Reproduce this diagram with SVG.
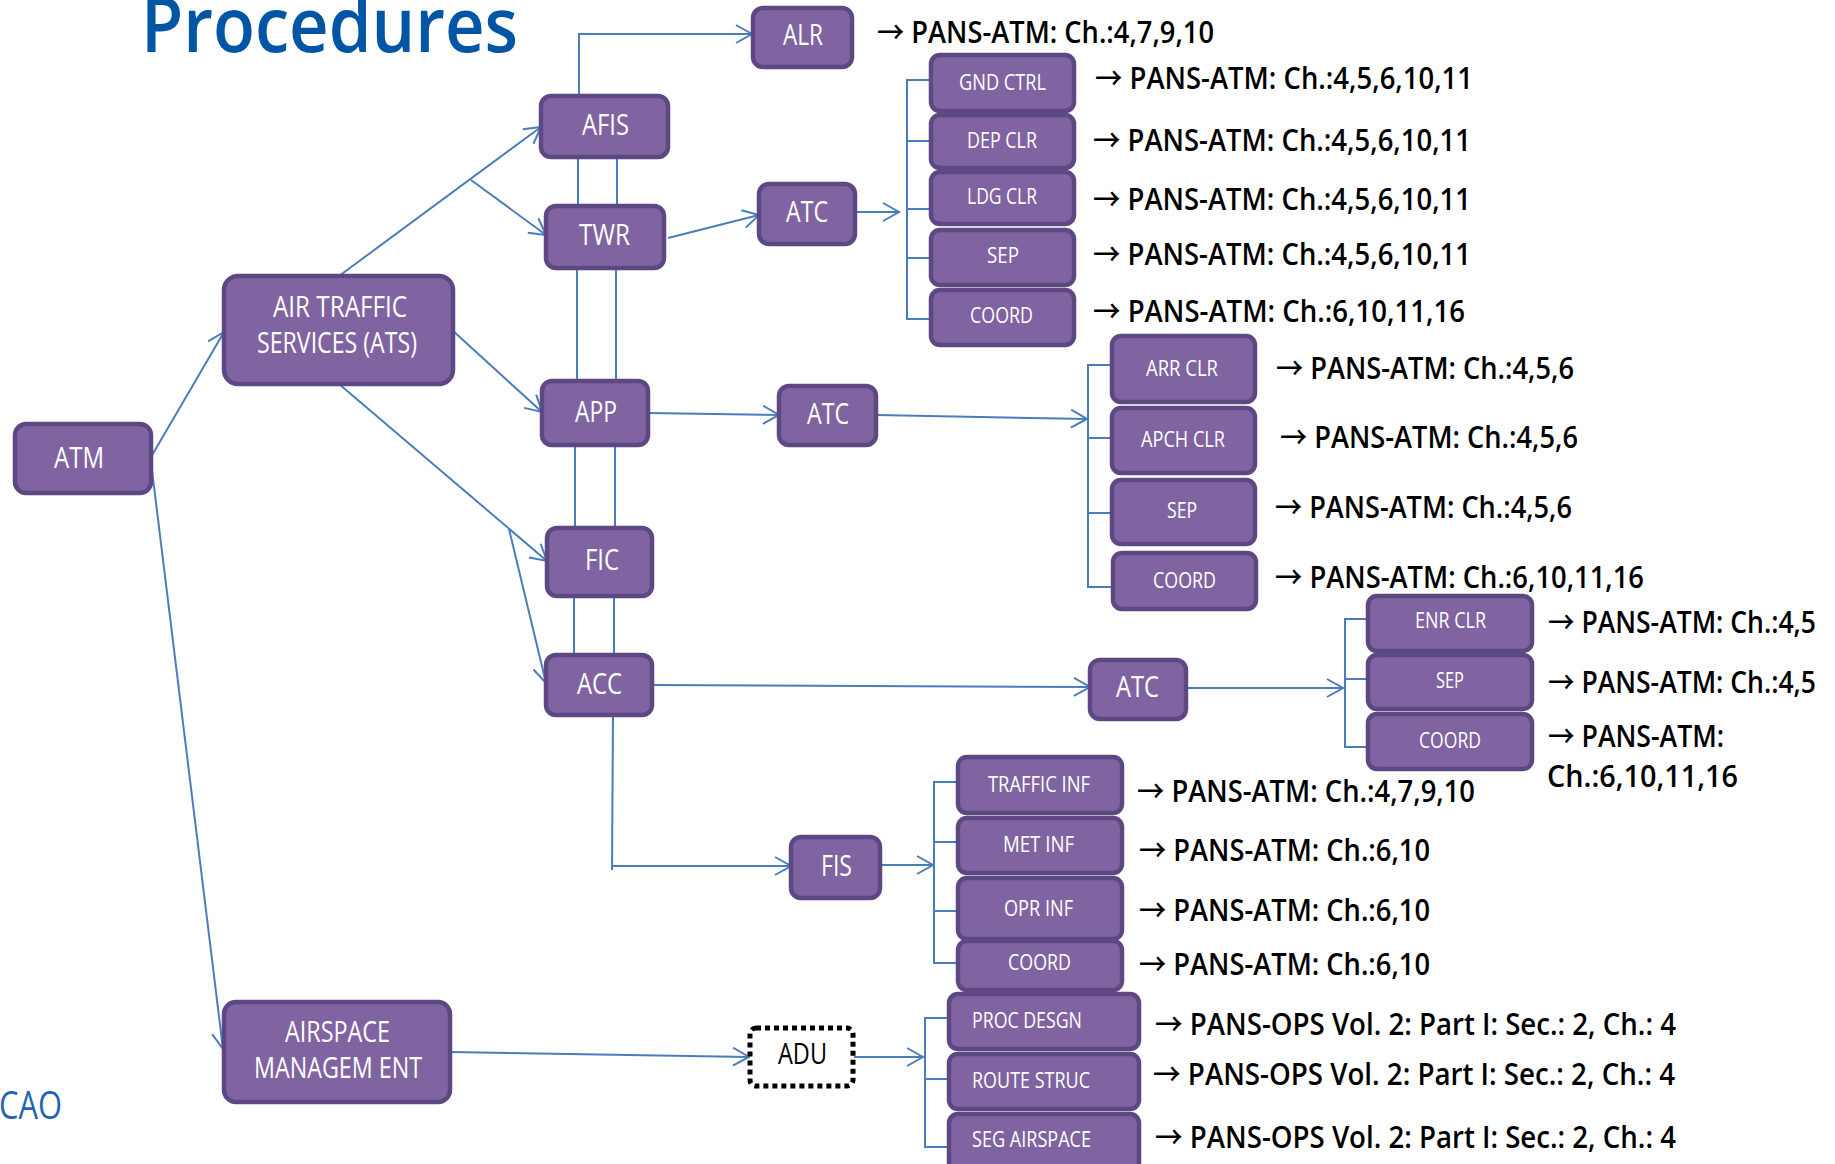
<svg xmlns="http://www.w3.org/2000/svg" width="1835" height="1164" viewBox="0 0 1835 1164">
<style>
.box{fill:#8064a2;stroke:#5d4884;stroke-width:4.5}
.dot{fill:#fff;stroke:#000;stroke-width:5;stroke-dasharray:5 4}
.lbl{fill:#fff;font-family:"Open Sans","Liberation Sans",sans-serif;font-size:29px}
.sm{fill:#fff;font-family:"Open Sans","Liberation Sans",sans-serif;font-size:21px;font-weight:500}
.ref{fill:#000;font-family:"Open Sans","Liberation Sans",sans-serif;font-size:30px;font-weight:600}
.a{font-family:"Noto Sans CJK JP","DejaVu Sans",sans-serif;font-weight:500}
.ln{fill:none;stroke:#4a7ebb;stroke-width:2}
.ar{marker-end:url(#arr)}
</style>
<defs>
<marker id="arr" markerUnits="userSpaceOnUse" markerWidth="20" markerHeight="22" refX="17" refY="10" orient="auto">
<path d="M1,1 L17,10 L1,19" fill="none" stroke="#4a7ebb" stroke-width="2"/>
</marker>
</defs>
<rect width="1835" height="1164" fill="#fff"/>
<text x="141" y="52" font-family="Open Sans, Liberation Sans, sans-serif" font-size="76" font-weight="600" fill="#0055a5" textLength="377" lengthAdjust="spacingAndGlyphs">Procedures</text>
<text x="-1" y="1119" font-family="Open Sans, Liberation Sans, sans-serif" font-size="38" fill="#1f64b0" textLength="63" lengthAdjust="spacingAndGlyphs">CAO</text>

<g id="connectors">
<line class="ln ar" x1="151" y1="457" x2="224" y2="332"/>
<line class="ln ar" x1="151" y1="462" x2="223" y2="1049"/>
<line class="ln ar" x1="339" y1="276" x2="541" y2="127"/>
<line class="ln ar" x1="471" y1="180" x2="546" y2="235"/>
<line class="ln ar" x1="452" y1="330" x2="542" y2="412"/>
<line class="ln ar" x1="339" y1="384" x2="547" y2="561"/>
<line class="ln ar" x1="509" y1="529" x2="546" y2="683"/>
<polyline class="ln ar" points="579,96 579,34 752,34"/>
<line class="ln" x1="578" y1="157" x2="578" y2="206"/>
<line class="ln" x1="617" y1="157" x2="617" y2="206"/>
<line class="ln" x1="577" y1="268" x2="577" y2="381"/>
<line class="ln" x1="616" y1="268" x2="616" y2="381"/>
<line class="ln" x1="575" y1="445" x2="575" y2="528"/>
<line class="ln" x1="615" y1="445" x2="615" y2="528"/>
<line class="ln" x1="574" y1="596" x2="574" y2="655"/>
<line class="ln" x1="614" y1="596" x2="614" y2="655"/>
<line class="ln" x1="613" y1="715" x2="612" y2="870"/>
<line class="ln ar" x1="612" y1="866" x2="791" y2="866"/>
<line class="ln ar" x1="668" y1="238" x2="759" y2="215"/>
<line class="ln ar" x1="855" y1="212" x2="899" y2="212"/>
<polyline class="ln" points="932,80 907,80 907,319 932,319"/>
<line class="ln" x1="907" y1="141" x2="932" y2="141"/>
<line class="ln" x1="907" y1="209" x2="932" y2="209"/>
<line class="ln" x1="907" y1="258" x2="932" y2="258"/>
<line class="ln ar" x1="648" y1="413" x2="779" y2="415"/>
<line class="ln ar" x1="877" y1="415" x2="1087" y2="419"/>
<polyline class="ln" points="1112,365 1088,365 1088,587 1112,587"/>
<line class="ln" x1="1088" y1="438" x2="1112" y2="438"/>
<line class="ln" x1="1088" y1="513" x2="1112" y2="513"/>
<line class="ln ar" x1="652" y1="685" x2="1090" y2="687"/>
<line class="ln ar" x1="1186" y1="688" x2="1343" y2="688"/>
<polyline class="ln" points="1368,619 1345,619 1345,747 1368,747"/>
<line class="ln" x1="1345" y1="679" x2="1368" y2="679"/>
<line class="ln ar" x1="880" y1="865" x2="933" y2="865"/>
<polyline class="ln" points="960,782 934,782 934,963 960,963"/>
<line class="ln" x1="934" y1="842" x2="960" y2="842"/>
<line class="ln" x1="934" y1="911" x2="960" y2="911"/>
<line class="ln ar" x1="450" y1="1052" x2="749" y2="1057"/>
<line class="ln ar" x1="854" y1="1057" x2="923" y2="1057"/>
<polyline class="ln" points="949,1018 925,1018 925,1147 949,1147"/>
<line class="ln" x1="925" y1="1079" x2="949" y2="1079"/>
</g>

<g id="atm"><rect class="box" x="15" y="424" width="136" height="69" rx="11"/><text class="lbl" x="54" y="468" font-size="30" textLength="50" lengthAdjust="spacingAndGlyphs">ATM</text></g>
<g id="ats"><rect class="box" x="224" y="276" width="229" height="108" rx="14"/><text class="lbl" x="273" y="317" font-size="28" textLength="134" lengthAdjust="spacingAndGlyphs">AIR TRAFFIC</text><text class="lbl" x="257" y="353" font-size="28" textLength="160" lengthAdjust="spacingAndGlyphs">SERVICES (ATS)</text></g>
<g id="afis"><rect class="box" x="541" y="96" width="127" height="61" rx="10"/><text class="lbl" x="582" y="135" textLength="47" lengthAdjust="spacingAndGlyphs">AFIS</text></g>
<g id="twr"><rect class="box" x="546" y="206" width="118" height="62" rx="10"/><text class="lbl" x="579" y="245" textLength="51" lengthAdjust="spacingAndGlyphs">TWR</text></g>
<g id="app"><rect class="box" x="542" y="381" width="106" height="64" rx="10"/><text class="lbl" x="575" y="422" textLength="42" lengthAdjust="spacingAndGlyphs">APP</text></g>
<g id="fic"><rect class="box" x="547" y="528" width="105" height="68" rx="10"/><text class="lbl" x="585" y="570" textLength="34" lengthAdjust="spacingAndGlyphs">FIC</text></g>
<g id="acc"><rect class="box" x="546" y="655" width="106" height="60" rx="10"/><text class="lbl" x="577" y="694" textLength="45" lengthAdjust="spacingAndGlyphs">ACC</text></g>
<g id="asm"><rect class="box" x="224" y="1002" width="226" height="100" rx="12"/><text class="lbl" x="285" y="1042" font-size="28" textLength="105" lengthAdjust="spacingAndGlyphs">AIRSPACE</text><text class="lbl" x="254" y="1078" font-size="28" textLength="168" lengthAdjust="spacingAndGlyphs">MANAGEM ENT</text></g>
<g id="alr"><rect class="box" x="753" y="8" width="99" height="59" rx="10"/><text class="lbl" x="783" y="45" textLength="40" lengthAdjust="spacingAndGlyphs">ALR</text></g>
<g id="atc1"><rect class="box" x="759" y="184" width="96" height="60" rx="10"/><text class="lbl" x="786" y="222" textLength="42" lengthAdjust="spacingAndGlyphs">ATC</text></g>
<g id="atc2"><rect class="box" x="779" y="386" width="97" height="59" rx="10"/><text class="lbl" x="807" y="424" textLength="42" lengthAdjust="spacingAndGlyphs">ATC</text></g>
<g id="atc3"><rect class="box" x="1090" y="660" width="96" height="59" rx="10"/><text class="lbl" x="1116" y="697" textLength="43" lengthAdjust="spacingAndGlyphs">ATC</text></g>
<g id="fis"><rect class="box" x="791" y="837" width="89" height="61" rx="10"/><text class="lbl" x="821" y="876" textLength="31" lengthAdjust="spacingAndGlyphs">FIS</text></g>
<g id="adu"><rect class="dot" x="750" y="1028" width="103" height="58" rx="6"/><text class="lbl" x="778" y="1064" style="fill:#000" textLength="49" lengthAdjust="spacingAndGlyphs">ADU</text></g>

<g id="gnd-ctrl"><rect class="box" x="931" y="55" width="143" height="56" rx="9"/><text class="sm" x="959" y="90" textLength="87" lengthAdjust="spacingAndGlyphs">GND CTRL</text></g>
<g id="dep-clr"><rect class="box" x="931" y="115" width="143" height="53" rx="9"/><text class="sm" x="967" y="148" textLength="70" lengthAdjust="spacingAndGlyphs">DEP CLR</text></g>
<g id="ldg-clr"><rect class="box" x="931" y="172" width="143" height="52" rx="9"/><text class="sm" x="967" y="204" textLength="70" lengthAdjust="spacingAndGlyphs">LDG CLR</text></g>
<g id="sep1"><rect class="box" x="931" y="230" width="143" height="55" rx="9"/><text class="sm" x="987" y="263" textLength="32" lengthAdjust="spacingAndGlyphs">SEP</text></g>
<g id="coord1"><rect class="box" x="931" y="290" width="143" height="55" rx="9"/><text class="sm" x="970" y="323" textLength="63" lengthAdjust="spacingAndGlyphs">COORD</text></g>

<g id="arr-clr"><rect class="box" x="1112" y="336" width="143" height="66" rx="9"/><text class="sm" x="1146" y="376" textLength="72" lengthAdjust="spacingAndGlyphs">ARR CLR</text></g>
<g id="apch-clr"><rect class="box" x="1112" y="408" width="143" height="65" rx="9"/><text class="sm" x="1141" y="447" textLength="84" lengthAdjust="spacingAndGlyphs">APCH CLR</text></g>
<g id="sep2"><rect class="box" x="1112" y="480" width="143" height="64" rx="9"/><text class="sm" x="1167" y="518" textLength="30" lengthAdjust="spacingAndGlyphs">SEP</text></g>
<g id="coord2"><rect class="box" x="1113" y="553" width="143" height="56" rx="9"/><text class="sm" x="1153" y="588" textLength="63" lengthAdjust="spacingAndGlyphs">COORD</text></g>

<g id="enr-clr"><rect class="box" x="1368" y="596" width="164" height="55" rx="9"/><text class="sm" x="1415" y="628" textLength="71" lengthAdjust="spacingAndGlyphs">ENR CLR</text></g>
<g id="sep3"><rect class="box" x="1368" y="655" width="164" height="54" rx="9"/><text class="sm" x="1436" y="688" textLength="28" lengthAdjust="spacingAndGlyphs">SEP</text></g>
<g id="coord3"><rect class="box" x="1368" y="714" width="164" height="55" rx="9"/><text class="sm" x="1419" y="748" textLength="62" lengthAdjust="spacingAndGlyphs">COORD</text></g>

<g id="traffic-inf"><rect class="box" x="958" y="757" width="164" height="56" rx="9"/><text class="sm" x="988" y="792" textLength="102" lengthAdjust="spacingAndGlyphs">TRAFFIC INF</text></g>
<g id="met-inf"><rect class="box" x="958" y="818" width="164" height="55" rx="9"/><text class="sm" x="1003" y="852" textLength="71" lengthAdjust="spacingAndGlyphs">MET INF</text></g>
<g id="opr-inf"><rect class="box" x="958" y="878" width="164" height="61" rx="9"/><text class="sm" x="1004" y="916" textLength="69" lengthAdjust="spacingAndGlyphs">OPR INF</text></g>
<g id="coord4"><rect class="box" x="958" y="941" width="164" height="49" rx="9"/><text class="sm" x="1008" y="970" textLength="63" lengthAdjust="spacingAndGlyphs">COORD</text></g>

<g id="proc-desgn"><rect class="box" x="949" y="994" width="190" height="55" rx="9"/><text class="sm" x="972" y="1028" textLength="110" lengthAdjust="spacingAndGlyphs">PROC DESGN</text></g>
<g id="route-struc"><rect class="box" x="949" y="1054" width="190" height="55" rx="9"/><text class="sm" x="972" y="1088" textLength="118" lengthAdjust="spacingAndGlyphs">ROUTE STRUC</text></g>
<g id="seg-airspace"><rect class="box" x="949" y="1114" width="190" height="60" rx="9"/><text class="sm" x="972" y="1147" textLength="119" lengthAdjust="spacingAndGlyphs">SEG AIRSPACE</text></g>

<g id="refs">
<text class="ref" x="877" y="43" textLength="337" lengthAdjust="spacingAndGlyphs"><tspan class="a">→</tspan> PANS-ATM: Ch.:4,7,9,10</text>
<text class="ref" x="1095" y="89" textLength="378" lengthAdjust="spacingAndGlyphs"><tspan class="a">→</tspan> PANS-ATM: Ch.:4,5,6,10,11</text>
<text class="ref" x="1093" y="151" textLength="378" lengthAdjust="spacingAndGlyphs"><tspan class="a">→</tspan> PANS-ATM: Ch.:4,5,6,10,11</text>
<text class="ref" x="1093" y="210" textLength="378" lengthAdjust="spacingAndGlyphs"><tspan class="a">→</tspan> PANS-ATM: Ch.:4,5,6,10,11</text>
<text class="ref" x="1093" y="265" textLength="378" lengthAdjust="spacingAndGlyphs"><tspan class="a">→</tspan> PANS-ATM: Ch.:4,5,6,10,11</text>
<text class="ref" x="1093" y="322" textLength="372" lengthAdjust="spacingAndGlyphs"><tspan class="a">→</tspan> PANS-ATM: Ch.:6,10,11,16</text>
<text class="ref" x="1276" y="379" textLength="298" lengthAdjust="spacingAndGlyphs"><tspan class="a">→</tspan> PANS-ATM: Ch.:4,5,6</text>
<text class="ref" x="1280" y="448" textLength="298" lengthAdjust="spacingAndGlyphs"><tspan class="a">→</tspan> PANS-ATM: Ch.:4,5,6</text>
<text class="ref" x="1275" y="518" textLength="297" lengthAdjust="spacingAndGlyphs"><tspan class="a">→</tspan> PANS-ATM: Ch.:4,5,6</text>
<text class="ref" x="1275" y="588" textLength="369" lengthAdjust="spacingAndGlyphs"><tspan class="a">→</tspan> PANS-ATM: Ch.:6,10,11,16</text>
<text class="ref" x="1548" y="633" font-size="26" textLength="268" lengthAdjust="spacingAndGlyphs"><tspan class="a">→</tspan> PANS-ATM: Ch.:4,5</text>
<text class="ref" x="1548" y="693" font-size="26" textLength="268" lengthAdjust="spacingAndGlyphs"><tspan class="a">→</tspan> PANS-ATM: Ch.:4,5</text>
<text class="ref" x="1548" y="747" textLength="176" lengthAdjust="spacingAndGlyphs"><tspan class="a">→</tspan> PANS-ATM:</text>
<text class="ref" x="1547" y="787" textLength="191" lengthAdjust="spacingAndGlyphs">Ch.:6,10,11,16</text>
<text class="ref" x="1137" y="802" textLength="338" lengthAdjust="spacingAndGlyphs"><tspan class="a">→</tspan> PANS-ATM: Ch.:4,7,9,10</text>
<text class="ref" x="1139" y="861" textLength="291" lengthAdjust="spacingAndGlyphs"><tspan class="a">→</tspan> PANS-ATM: Ch.:6,10</text>
<text class="ref" x="1139" y="921" textLength="291" lengthAdjust="spacingAndGlyphs"><tspan class="a">→</tspan> PANS-ATM: Ch.:6,10</text>
<text class="ref" x="1139" y="975" textLength="291" lengthAdjust="spacingAndGlyphs"><tspan class="a">→</tspan> PANS-ATM: Ch.:6,10</text>
<text class="ref" x="1155" y="1035" textLength="521" lengthAdjust="spacingAndGlyphs"><tspan class="a">→</tspan> PANS-OPS Vol. 2: Part I: Sec.: 2, Ch.: 4</text>
<text class="ref" x="1153" y="1085" textLength="522" lengthAdjust="spacingAndGlyphs"><tspan class="a">→</tspan> PANS-OPS Vol. 2: Part I: Sec.: 2, Ch.: 4</text>
<text class="ref" x="1155" y="1148" textLength="521" lengthAdjust="spacingAndGlyphs"><tspan class="a">→</tspan> PANS-OPS Vol. 2: Part I: Sec.: 2, Ch.: 4</text>
</g>
</svg>
